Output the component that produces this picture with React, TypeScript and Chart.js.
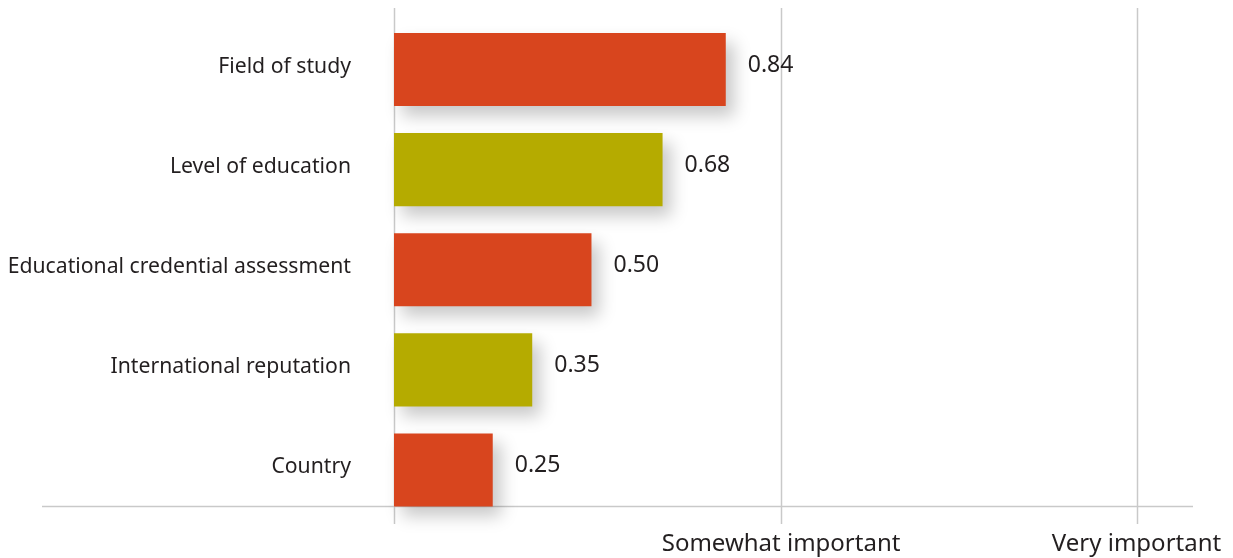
import React, { useEffect, useRef } from "react";
import { Chart, registerables } from "chart.js";

Chart.register(...registerables);

const CATEGORIES = [
  "Field of study",
  "Level of education",
  "Educational credential assessment",
  "International reputation",
  "Country",
];
const VALUES = [0.84, 0.68, 0.5, 0.35, 0.25];
const BAR_COLORS = ["#D8451E", "#B5AB00", "#D8451E", "#B5AB00", "#D8451E"];
const TICK_LABELS = ["Somewhat important", "Very important"];
const TICK_POSITIONS = [0.98, 1.88];
const X_MAX = 2.023;

const FONT = "'Noto Sans', 'Open Sans', sans-serif";
const LINE_COLOR = "#c9c9c9";

const shadowPlugin = {
  id: "barShadow",
  beforeDatasetDraw(chart: any) {
    const ctx = chart.ctx;
    ctx.save();
    ctx.shadowColor = "rgba(0,0,0,0.22)";
    ctx.shadowBlur = 16;
    ctx.shadowOffsetX = 8;
    ctx.shadowOffsetY = 10;
  },
  afterDatasetDraw(chart: any) {
    chart.ctx.restore();
  },
};

const linesPlugin = {
  id: "customLines",
  beforeDatasetsDraw(chart: any) {
    const ctx = chart.ctx;
    const xs = chart.scales.x;
    const meta = chart.getDatasetMeta(0);
    const last = meta.data[meta.data.length - 1];
    const axisY = Math.round(last.y + last.height / 2) + 0.5;
    ctx.save();
    ctx.strokeStyle = LINE_COLOR;
    ctx.lineWidth = 1.5;
    [0, ...TICK_POSITIONS].forEach((v) => {
      const x = Math.round(xs.getPixelForValue(v)) + 0.5;
      ctx.beginPath();
      ctx.moveTo(x, 8);
      ctx.lineTo(x, 524);
      ctx.stroke();
    });
    ctx.beginPath();
    ctx.moveTo(42, axisY);
    ctx.lineTo(chart.chartArea.right, axisY);
    ctx.stroke();
    ctx.restore();
  },
  afterDatasetsDraw(chart: any) {
    const ctx = chart.ctx;
    const meta = chart.getDatasetMeta(0);
    ctx.save();
    ctx.fillStyle = "#231f20";
    ctx.font = `23px ${FONT}`;
    ctx.textAlign = "left";
    ctx.textBaseline = "middle";
    meta.data.forEach((bar: any, i: number) => {
      ctx.fillText(VALUES[i].toFixed(2), bar.x + 22, bar.y - 4);
    });
    ctx.restore();
  },
};

export default function App() {
  const ref = useRef<HTMLCanvasElement>(null);
  useEffect(() => {
    if (!ref.current) return;
    const chart = new Chart(ref.current, {
      type: "bar",
      data: {
        labels: CATEGORIES,
        datasets: [
          {
            data: VALUES,
            backgroundColor: BAR_COLORS,
            borderWidth: 0,
            barPercentage: 0.73,
            categoryPercentage: 1,
            clip: false as any,
          },
        ],
      },
      options: {
        indexAxis: "y",
        animation: false,
        responsive: false,
        layout: { padding: { top: 19.5, right: 40, left: 0, bottom: 0 } },
        plugins: {
          legend: { display: false },
          tooltip: { enabled: false },
        },
        scales: {
          y: {
            grid: { display: false, drawTicks: false },
            border: { display: false },
            afterFit: (s: any) => {
              s.width = 394;
              s.paddingTop = 0;
              s.paddingBottom = 0;
            },
            ticks: {
              padding: 43,
              labelOffset: -3,
              color: "#231f20",
              font: { family: FONT, size: 21.2 },
            },
          },
          x: {
            min: 0,
            max: X_MAX,
            grid: { display: false, drawTicks: false },
            border: { display: false },
            afterFit: (s: any) => {
              s.height = 38;
              s.paddingLeft = 0;
              s.paddingRight = 0;
            },
            afterBuildTicks: (s: any) => {
              s.ticks = TICK_POSITIONS.map((v) => ({ value: v }));
            },
            ticks: {
              padding: 10,
              maxRotation: 0,
              autoSkip: false,
              color: "#231f20",
              font: { family: FONT, size: 24 },
              callback: (v: any) => {
                const idx = TICK_POSITIONS.indexOf(Number(v));
                return idx >= 0 ? TICK_LABELS[idx] : "";
              },
            },
          },
        },
      },
      plugins: [linesPlugin, shadowPlugin],
    });
    return () => chart.destroy();
  }, []);
  return (
    <div style={{ position: "absolute", left: 0, top: 0, width: 1233, height: 558, background: "#fff" }}>
      <canvas ref={ref} width={1233} height={558} style={{ display: "block" }} />
    </div>
  );
}
